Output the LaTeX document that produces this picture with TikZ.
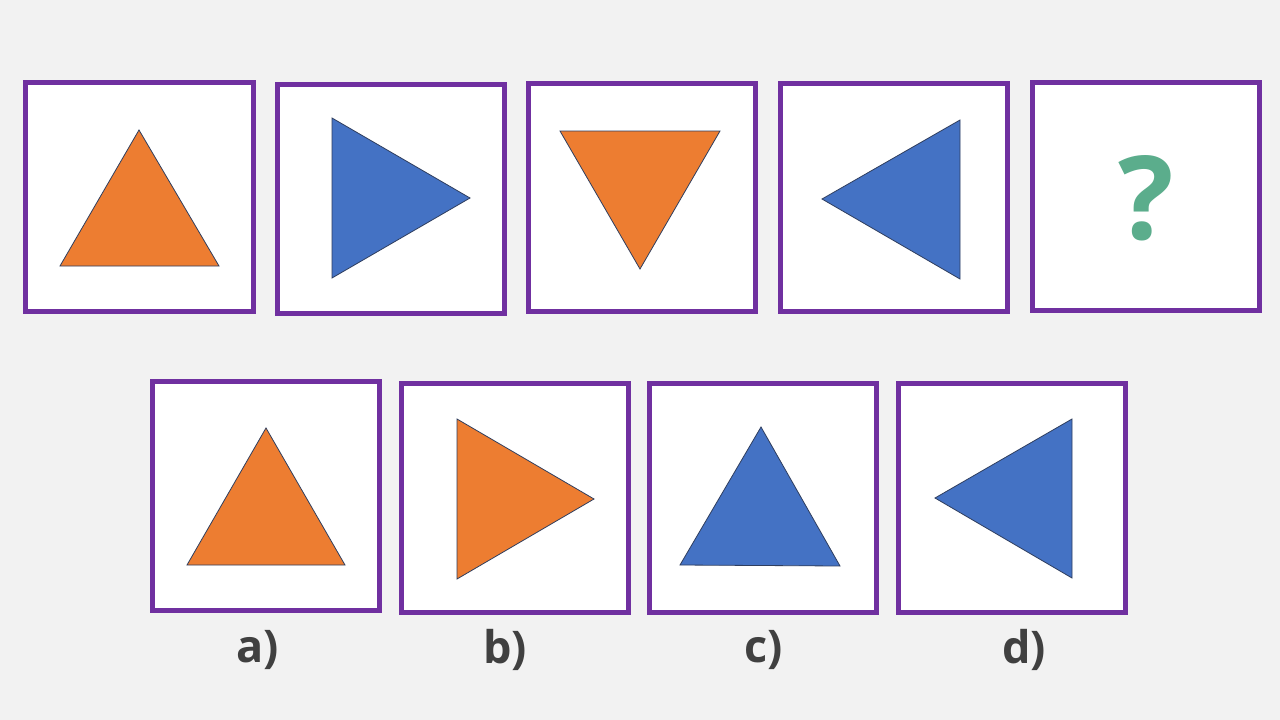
\documentclass[tikz,border=0pt]{standalone}
\usepackage{fontspec}
\setmainfont{Carlito}
\newfontfamily\lblfont{Open Sans}
\begin{document}
\begin{tikzpicture}[x=1pt,y=-1pt,
  box/.style={draw=boxpurple,line width=5pt,fill=white},
  tri/.style={draw=edgenavy,line width=0.8pt,line join=miter},
  lbl/.style={text=labelgray,font=\lblfont\fontsize{45}{50}\selectfont\bfseries,inner sep=0pt}]
\definecolor{boxpurple}{HTML}{7030A0}
\definecolor{triorange}{HTML}{ED7D31}
\definecolor{triblue}{HTML}{4472C4}
\definecolor{edgenavy}{HTML}{2F3E5E}
\definecolor{labelgray}{HTML}{404040}
\definecolor{qgreen}{HTML}{5BAD8C}
\definecolor{bg}{HTML}{F2F2F2}
\fill[bg] (0,0) rectangle (1280,720);
\useasboundingbox (0,0) rectangle (1280,720);
% top row boxes
\draw[box] (25.5,82.5) rectangle (253.5,311.5);
\draw[box] (277,84) rectangle (504,313);
\draw[box] (528,83) rectangle (755,311);
\draw[box] (780,83) rectangle (1007,311);
\draw[box] (1032,82) rectangle (1259,310);
% bottom row boxes
\draw[box] (152,381) rectangle (379,610);
\draw[box] (401,383) rectangle (628,612);
\draw[box] (649,383) rectangle (876,612);
\draw[box] (898,383) rectangle (1125,612);
% triangles
\filldraw[tri,fill=triorange] (139,130) -- (219,266) -- (60,266) -- cycle;
\filldraw[tri,fill=triblue] (332,118) -- (470,198) -- (332,278) -- cycle;
\filldraw[tri,fill=triorange] (560,131) -- (720,131) -- (640,269) -- cycle;
\filldraw[tri,fill=triblue] (960,120) -- (960,279) -- (822,199) -- cycle;
\filldraw[tri,fill=triorange] (266,428) -- (345,565) -- (187,565) -- cycle;
\filldraw[tri,fill=triorange] (457,419) -- (594,499) -- (457,579) -- cycle;
\filldraw[tri,fill=triblue] (761,427) -- (840,566) -- (680,565) -- cycle;
\filldraw[tri,fill=triblue] (1072,419) -- (1072,578) -- (935,498) -- cycle;
% question mark
\node[text=qgreen,font=\lblfont\fontsize{116}{120}\selectfont\bfseries,inner sep=0pt] (q) at (1146,198) {?};
% labels
\node[lbl] (la) at (258,650) {a)};
\node[lbl] (lb) at (505,650) {b)};
\node[lbl] (lc) at (764,650) {c)};
\node[lbl] (ld) at (1024,650) {d)};
\end{tikzpicture}
\end{document}
